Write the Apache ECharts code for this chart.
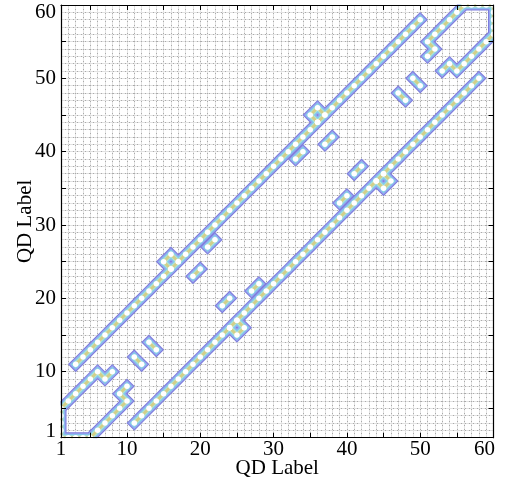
<!DOCTYPE html>
<html>
<head>
<meta charset="utf-8">
<script src="https://cdn.jsdelivr.net/npm/echarts@6/dist/echarts.min.js"></script>
<style>html,body{margin:0;padding:0;background:#fff}#container{width:507px;height:488px}</style>
</head>
<body>
<div id="container"></div>
<script>
// ticks and labels
var tickValues = [5, 10, 15, 20, 25, 30, 35, 40, 45, 50, 55, 60];
var labelValues = [1, 10, 20, 30, 40, 50, 60];

// cells of the coupling matrix, grouped as chains of neighbouring cells
var upperBand = [[3,11],[4,12],[5,13],[6,14],[7,15],[8,16],[9,17],[10,18],[11,19],[12,20],[13,21],[14,22],[15,23],[16,24],[17,25],[18,26],[19,27],[20,28],[21,29],[22,30],[23,31],[24,32],[25,33],[26,34],[27,35],[28,36],[29,37],[30,38],[31,39],[32,40],[33,41],[34,42],[35,43],[36,44],[37,45],[38,46],[39,47],[40,48],[41,49],[42,50],[43,51],[44,52],[45,53],[46,54],[47,55],[48,56],[49,57],[50,58]];
var lowerBand = [[11,3],[12,4],[13,5],[14,6],[15,7],[16,8],[17,9],[18,10],[19,11],[20,12],[21,13],[22,14],[23,15],[24,16],[25,17],[26,18],[27,19],[28,20],[29,21],[30,22],[31,23],[32,24],[33,25],[34,26],[35,27],[36,28],[37,29],[38,30],[39,31],[40,32],[41,33],[42,34],[43,35],[44,36],[45,37],[46,38],[47,39],[48,40],[49,41],[50,42],[51,43],[52,44],[53,45],[54,46],[55,47],[56,48],[57,49],[58,50]];
var bumpRings = [
    [[16,24],[15,25],[16,26],[17,25],[16,24]],
    [[36,44],[35,45],[36,46],[37,45],[36,44]],
    [[24,16],[25,15],[26,16],[25,17],[24,16]],
    [[44,36],[45,35],[46,36],[45,37],[44,36]]
];
var cornerLow = [[8,10],[7,9],[6,10],[5,9],[4,8],[3,7],[2,6],[1,5],[1,4],[1,3],[1,2],[1,1],[2,1],[3,1],[4,1],[5,1],[6,2],[7,3],[8,4],[9,5],[10,6],[9,7],[10,8]];
var cornerHigh = [[53,51],[54,52],[55,51],[56,52],[57,53],[58,54],[59,55],[60,56],[60,57],[60,58],[60,59],[60,60],[59,60],[58,60],[57,60],[56,60],[55,59],[54,58],[53,57],[52,56],[51,55],[52,54],[51,53]];
var pairs = [
    [[11,12],[12,11]], [[13,14],[14,13]], [[19,23],[20,24]], [[21,27],[22,28]],
    [[23,19],[24,20]], [[27,21],[28,22]], [[50,49],[49,50]], [[48,47],[47,48]],
    [[42,38],[41,37]], [[40,34],[39,33]], [[38,42],[37,41]], [[34,40],[33,39]]
];

var chains = [upperBand, lowerBand, cornerLow, cornerHigh].concat(bumpRings, pairs);

// contour-like rings, outermost first
var levels = [
    {w: 11, c: '#7c7cdc'},
    {w: 9, c: '#98a4ee'},
    {w: 7, c: '#80cdec'},
    {w: 4.8, c: '#b4e2d4'},
    {w: 2.8, c: '#d2d088'}
];

var path = [];
var cells = [];
chains.forEach(function (ch) {
    ch.forEach(function (p) { path.push([p[0], p[1]]); cells.push([p[0], p[1]]); });
    path.push(['-', '-']);
});

var W = 507, H = 488;
var gridBox = {left: 61, top: 5, right: 13.5, bottom: 50.3};

var dom = document.getElementById('container');
var myChart = echarts.init(dom);

var series = levels.map(function (lv, i) {
    return {
        type: 'line',
        data: path,
        symbol: 'none',
        silent: true,
        z: 2 + i * 0.1,
        connectNulls: false,
        lineStyle: {width: lv.w, color: lv.c, cap: 'square', join: 'miter'}
    };
});
series.push({
    type: 'scatter',
    data: cells,
    symbol: 'circle',
    symbolSize: 5.5,
    silent: true,
    z: 5,
    itemStyle: {color: '#ffffff', opacity: 1}
});

var serif = 'Liberation Serif';
var txt = {fontFamily: serif, fontSize: 21, color: '#000'};

function mainAxis(pos, isX) {
    var ax = {
        type: 'value', min: 1, max: 60, position: pos, z: 10,
        axisLine: {show: true, lineStyle: {color: '#000', width: 1.2}},
        axisTick: {show: true, inside: true, length: 5, customValues: tickValues, lineStyle: {color: '#000'}},
        axisLabel: {show: false},
        splitLine: {show: false}
    };
    if (pos === 'bottom' || pos === 'left') {
        ax.axisLabel = {
            show: true, customValues: labelValues, fontFamily: serif, fontSize: 21, color: '#000',
            margin: isX ? 1 : 5,
            rich: {
                p: Object.assign({}, txt),
                xhi: Object.assign({padding: [0, 18, 0, 0]}, txt),
                ylo: Object.assign({padding: [0, 0, 13, 0]}, txt),
                yhi: Object.assign({padding: [14, 0, 0, 0]}, txt)
            },
            formatter: function (v) {
                if (isX && v === 60) return '{xhi|60}';
                if (!isX && v === 1) return '{ylo|1}';
                if (!isX && v === 60) return '{yhi|60}';
                return '{p|' + v + '}';
            }
        };
        ax.name = 'QD Label';
        ax.nameLocation = 'middle';
        ax.nameMoveOverlap = false;
        ax.nameGap = isX ? 20 : 25;
        ax.nameTextStyle = txt;
    }
    return ax;
}

function gridAxis(pos, style) {
    return {
        type: 'value', min: 1, max: 60, interval: 1, position: pos,
        axisLine: {show: false}, axisTick: {show: false}, axisLabel: {show: false},
        splitLine: {show: true, lineStyle: style}
    };
}

var solidGrid = {color: '#e2e2e2', width: 1, type: 'solid'};
var dotGrid = {color: '#aaaaaa', width: 1, type: [1, 3]};

// white margins so the wide contour strokes stay inside the frame
var gx0 = gridBox.left, gy0 = gridBox.top;
var gx1 = W - gridBox.right, gy1 = H - gridBox.bottom;
var masks = [
    {x: 0, y: 0, width: gx0 - 0.6, height: H},
    {x: gx1 + 0.6, y: 0, width: W - gx1, height: H},
    {x: 0, y: 0, width: W, height: gy0 - 0.6},
    {x: 0, y: gy1 + 0.6, width: W, height: H - gy1}
].map(function (r) {
    return {type: 'rect', shape: r, style: {fill: '#fff'}, z: 6, silent: true};
});

option = {
    animation: false,
    backgroundColor: '#fff',
    grid: Object.assign({outerBoundsMode: 'none', containLabel: false}, gridBox),
    graphic: masks,
    xAxis: [mainAxis('bottom', true), mainAxis('top', true), gridAxis('bottom', solidGrid), gridAxis('bottom', dotGrid)],
    yAxis: [mainAxis('left', false), mainAxis('right', false), gridAxis('left', solidGrid), gridAxis('left', dotGrid)],
    series: series
};

myChart.setOption(option, true);
</script>
</body>
</html>
